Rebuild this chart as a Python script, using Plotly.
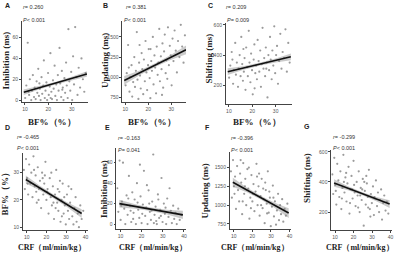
import plotly.graph_objects as go

# ---------------- data ----------------
# top row x: body fat percentage (BF%)
bf = [10.1, 10.6, 11.2, 11.8, 12.1, 12.7, 13.0, 13.4, 13.9, 14.2, 14.6, 15.0, 15.3, 15.7, 16.0, 16.4, 16.7, 17.1,
      17.4, 17.8, 18.1, 18.5, 18.8, 19.2, 19.5, 19.9, 20.2, 20.6, 20.9, 21.3, 21.6, 22.0, 22.3, 22.7, 23.0, 23.4,
      23.7, 24.1, 24.4, 24.8, 25.1, 25.5, 25.8, 26.2, 26.5, 26.9, 27.2, 27.6, 27.9, 28.3, 28.6, 29.0, 29.4, 29.8,
      30.2, 30.6, 31.0, 31.5, 32.0, 32.5, 33.0, 33.6, 34.2, 34.8, 35.4, 36.0, 11.5, 16.2, 21.0, 26.0]
inhibition_a = [2, 14, 55, 5, 20, 0, 9, 24, 3, 12, 1, 18, 7, 30, 4, 11, 0, 22, 6, 14, 38, 2, 9, 17, 0, 26, 5, 13,
                45, 8, 1, 19, 11, 33, 4, 15, 0, 24, 9, 50, 16, 3, 28, 12, 0, 21, 7, 36, 14, 2, 68, 18, 9, 27, 0,
                42, 15, 70, 22, 5, 31, 12, 40, 20, 8, 26, 8, 16, 2, 10]
updating_b = [900, 1050, 1400, 820, 1000, 1150, 760, 940, 1250, 880, 1080, 1560, 970, 730, 1180, 1020, 860, 1300,
              1100, 790, 1220, 950, 1450, 1060, 840, 1150, 1350, 990, 740, 1200, 1080, 1500, 910, 1270, 1120, 800,
              1380, 1030, 1180, 1600, 950, 1260, 1100, 1420, 870, 1320, 1530, 1050, 1210, 980, 1620, 1150, 1390,
              1270, 900, 1480, 1200, 1580, 1330, 1060, 1450, 1250, 1650, 1380, 1180, 1520, 1120, 1400, 1350, 780]
shifting_c = [250, 330, 420, 210, 300, 480, 270, 350, 190, 310, 400, 260, 520, 340, 230, 290, 380, 170, 450, 320,
              260, 560, 350, 220, 410, 300, 140, 370, 470, 280, 330, 240, 500, 360, 290, 430, 190, 340, 580, 310,
              380, 260, 450, 350, 120, 400, 300, 520, 370, 240, 430, 330, 590, 280, 400, 460, 210, 360, 540, 310,
              420, 380, 570, 290, 480, 350, 370, 440, 180, 310]

# bottom row x: cardiorespiratory fitness (CRF)
crf = [8.5, 9.0, 9.6, 10.1, 10.7, 11.2, 11.8, 12.3, 12.9, 13.4, 14.0, 14.5, 15.1, 15.6, 16.2, 16.7, 17.3, 17.8,
       18.4, 18.9, 19.5, 20.0, 20.6, 21.1, 21.7, 22.2, 22.8, 23.3, 23.9, 24.4, 25.0, 25.5, 26.1, 26.6, 27.2, 27.7,
       28.3, 28.8, 29.4, 29.9, 30.5, 31.0, 31.6, 32.1, 32.7, 33.2, 33.8, 34.3, 34.9, 35.4, 36.0, 36.6, 37.3, 38.0,
       38.8, 10.4, 13.7, 16.0, 18.1, 20.3, 22.5, 24.7, 26.9, 29.1, 31.3, 14.8, 19.2, 23.6, 27.9, 25.8]
bf_d = [31, 24, 35, 28, 22, 33, 26, 30, 21, 36, 25, 29, 19, 32, 24, 27, 17, 30, 22, 26, 34, 20, 24, 15, 28, 21, 18,
        25, 13, 22, 31, 19, 16, 23, 12, 20, 26, 15, 18, 11, 22, 16, 13, 19, 24, 14, 11, 17, 21, 12, 15, 10, 18, 13,
        16, 26, 31, 20, 28, 23, 30, 17, 27, 21, 25, 23, 29, 19, 14, 24]
inhibition_e = [35, 12, 62, 4, 22, 60, 15, 0, 28, 9, 47, 18, 2, 31, 11, 24, 0, 40, 14, 6, 27, 1, 19, 52, 8, 16, 0,
                33, 12, 4, 22, 68, 9, 17, 0, 29, 6, 14, 45, 2, 20, 10, 0, 25, 7, 35, 13, 1, 18, 5, 11, 0, 15, 4, 9,
                18, 25, 5, 21, 10, 38, 13, 3, 8, 16, 13, 58, 20, 24, 1]
updating_f = [1450, 1100, 1600, 1250, 1380, 950, 1520, 1200, 1050, 1420, 1300, 880, 1560, 1150, 1350, 1000, 1480,
              1220, 820, 1100, 1400, 1050, 1280, 920, 1180, 1550, 1000, 1250, 860, 1120, 1350, 960, 1080, 760,
              1200, 1020, 1450, 900, 1100, 720, 980, 1260, 850, 1050, 740, 930, 1150, 800, 1000, 880, 1080, 780,
              950, 860, 1020, 1150, 1600, 1250, 1500, 1150, 1380, 1000, 1300, 1180, 1100, 1050, 960, 1420, 890, 1220]
shifting_g = [450, 320, 560, 380, 250, 520, 410, 300, 470, 220, 360, 580, 330, 430, 270, 390, 500, 190, 350, 440,
              290, 540, 330, 240, 400, 310, 470, 200, 360, 280, 420, 110, 340, 250, 390, 300, 480, 220, 320, 260,
              370, 180, 290, 410, 240, 330, 200, 280, 350, 150, 260, 310, 210, 270, 190, 340, 290, 460, 260, 380,
              230, 350, 440, 170, 300, 400, 350, 310, 230, 400]

# regression lines (end points) and confidence band
fit_x_a = [9.5, 36.5];  fit_y_a = [7.5, 25.0]
band_x_a = [9.5, 16, 23, 30, 36.5]; band_lo_a = [4.9, 10.1, 15.05, 19.2, 22.4]; band_hi_a = [10.1, 13.3, 17.45, 22.4, 27.6]
fit_x_b = [9.5, 36.5];  fit_y_b = [960, 1340]
band_x_b = [9.5, 16, 23, 30, 36.5]; band_lo_b = [905, 1021, 1128, 1218, 1285]; band_hi_b = [1015, 1081, 1172, 1278, 1395]
fit_x_c = [9.5, 36.5];  fit_y_c = [290, 388]
band_x_c = [9.5, 16, 23, 30, 36.5]; band_lo_c = [268, 300.6, 329, 351.4, 366]; band_hi_c = [312, 326.6, 349, 377.4, 410]
fit_x_d = [9.5, 38];    fit_y_d = [27.5, 15.0]
band_x_d = [9.5, 16.5, 23.5, 30.5, 38]; band_lo_d = [26.0, 23.53, 20.66, 17.39, 13.4]; band_hi_d = [29.0, 25.33, 22.06, 19.19, 16.6]
fit_x_e = [9.5, 39.5];  fit_y_e = [20.0, 9.0]
band_x_e = [9.5, 17, 24.5, 32, 39.5]; band_lo_e = [16.2, 15.05, 12.8, 9.45, 5.0]; band_hi_e = [23.8, 19.45, 16.2, 14.05, 13.0]
fit_x_f = [9.5, 39.5];  fit_y_f = [1305, 895]
band_x_f = [9.5, 17, 24.5, 32, 39.5]; band_lo_f = [1245, 1170.5, 1075, 962.5, 830]; band_hi_f = [1365, 1234.5, 1125, 1032.5, 960]
fit_x_g = [9.5, 39.5];  fit_y_g = [393, 253]
band_x_g = [9.5, 17, 24.5, 32, 39.5]; band_lo_g = [368, 345, 313, 274, 227]; band_hi_g = [418, 371, 333, 302, 279]

letters = ["A", "B", "C", "D", "E", "F", "G"]
r_labels = ["0.260", "0.381", "0.209", "-0.465", "-0.163", "-0.396", "-0.299"]
p_labels = ["<i>P</i>< 0.001", "<i>P</i>< 0.001", "<i>P</i>= 0.009", "<i>P</i>< 0.001",
            "<i>P</i>= 0.041", "<i>P</i>< 0.001", "<i>P</i>< 0.001"]
y_titles = ["Inhibition (ms)", "Updating (ms)", "Shifting (ms)", "BF%（%）",
            "Inhibition (ms)", "Updating (ms)", "Shifting (ms)"]
x_titles = ["BF%（%）"] * 3 + ["CRF（ml/min/kg）"] * 4

x_ticks_top = [10, 20, 30]
x_ticks_bot = [10, 20, 30, 40]
y_ticks = [[0, 20, 40, 60], [750, 1000, 1250, 1500], [200, 400, 600], [10, 20, 30],
           [0, 20, 40, 60], [750, 1000, 1250, 1500], [200, 400, 600]]

# ---------------- layout geometry (pixels in a 400x253 canvas) ----------------
W, H = 400, 253
panels = [
    dict(x=bf, y=inhibition_a, fx=fit_x_a, fy=fit_y_a, bx=band_x_a, blo=band_lo_a, bhi=band_hi_a,
         px=(22, 88), py=(20, 102), xr=[8.7, 36.8], yr=[-2, 76], xt=x_ticks_top,
         lt=(3, 5), rt=(21, 6), pt=(21, 19), yt=(6, 60), xtl=(52, 122)),
    dict(x=bf, y=updating_b, fx=fit_x_b, fy=fit_y_b, bx=band_x_b, blo=band_lo_b, bhi=band_hi_b,
         px=(123, 187), py=(20, 102), xr=[8.7, 36.5], yr=[690, 1700], xt=x_ticks_top,
         lt=(102, 5), rt=(125, 6), pt=(123, 19), yt=(105, 60), xtl=(153, 122)),
    dict(x=bf, y=shifting_c, fx=fit_x_c, fy=fit_y_c, bx=band_x_c, blo=band_lo_c, bhi=band_hi_c,
         px=(227, 293), py=(22, 104), xr=[8.7, 36.8], yr=[75, 613], xt=x_ticks_top,
         lt=(207, 5), rt=(225, 6), pt=(226, 19), yt=(210, 58), xtl=(258, 122)),
    dict(x=crf, y=bf_d, fx=fit_x_d, fy=fit_y_d, bx=band_x_d, blo=band_lo_d, bhi=band_hi_d,
         px=(23, 88), py=(153, 231), xr=[8.0, 41.0], yr=[8.9, 37.3], xt=x_ticks_bot,
         lt=(3, 128), rt=(15, 137), pt=(15, 148), yt=(6, 192), xtl=(52, 248)),
    dict(x=crf, y=inhibition_e, fx=fit_x_e, fy=fit_y_e, bx=band_x_e, blo=band_lo_e, bhi=band_hi_e,
         px=(117, 187), py=(148, 230), xr=[8.1, 41.0], yr=[-5, 74.5], xt=x_ticks_bot,
         lt=(104, 128), rt=(117, 138), pt=(117, 150), yt=(104, 189), xtl=(154, 248)),
    dict(x=crf, y=updating_f, fx=fit_x_f, fy=fit_y_f, bx=band_x_f, blo=band_lo_f, bhi=band_hi_f,
         px=(231, 292), py=(152, 230), xr=[7.9, 40.5], yr=[680, 1710], xt=x_ticks_bot,
         lt=(204, 128), rt=(230, 138), pt=(230, 150), yt=(207, 191), xtl=(256, 248)),
    dict(x=crf, y=shifting_g, fx=fit_x_g, fy=fit_y_g, bx=band_x_g, blo=band_lo_g, bhi=band_hi_g,
         px=(333, 394), py=(150, 231), xr=[8.0, 40.8], yr=[80, 613], xt=x_ticks_bot,
         lt=(304, 127), rt=(333, 137), pt=(333, 148), yt=(308, 178), xtl=(362, 248)),
]

fig = go.Figure()
annotations = []
serif = "Liberation Serif, Times New Roman, serif"
sans = "Liberation Sans, Arial, sans-serif"

def fx_(px):
    return px / W

def fy_(py):
    return 1 - py / H

for i, p in enumerate(panels):
    n = "" if i == 0 else str(i + 1)
    xa, ya = "x" + n, "y" + n
    # confidence band
    fig.add_trace(go.Scatter(x=p["bx"] + p["bx"][::-1], y=p["bhi"] + p["blo"][::-1], xaxis=xa, yaxis=ya,
                             mode="lines", fill="toself", fillcolor="rgba(175,175,175,0.65)",
                             line=dict(width=0), hoverinfo="skip", showlegend=False))
    # scatter points
    fig.add_trace(go.Scatter(x=p["x"], y=p["y"], xaxis=xa, yaxis=ya, mode="markers",
                             marker=dict(size=2.2, color="rgba(130,130,130,0.8)", line=dict(width=0)),
                             showlegend=False))
    # regression line
    fig.add_trace(go.Scatter(x=p["fx"], y=p["fy"], xaxis=xa, yaxis=ya, mode="lines",
                             line=dict(color="#111111", width=1.6), showlegend=False))

    axis_common = dict(showgrid=False, zeroline=False, showline=True, linecolor="#444444", linewidth=0.8,
                       ticks="outside", ticklen=2, tickwidth=0.6, tickcolor="#444444",
                       tickfont=dict(size=5, color="#555555", family=sans))
    fig.update_layout(**{
        ("xaxis" + n): dict(domain=[fx_(p["px"][0]), fx_(p["px"][1])], range=p["xr"], anchor=ya,
                            tickvals=p["xt"], **axis_common),
        ("yaxis" + n): dict(domain=[fy_(p["py"][1]), fy_(p["py"][0])], range=p["yr"], anchor=xa,
                            tickvals=y_ticks[i], **axis_common),
    })

    annotations.append(dict(x=fx_(p["lt"][0]), y=fy_(p["lt"][1]), xref="paper", yref="paper",
                            text="<b>" + letters[i] + "</b>", showarrow=False, xanchor="left", yanchor="middle",
                            font=dict(size=7, family=sans, color="#222222")))
    annotations.append(dict(x=fx_(p["rt"][0]), y=fy_(p["rt"][1]), xref="paper", yref="paper",
                            text="<i>r</i>= " + r_labels[i], showarrow=False, xanchor="left", yanchor="middle",
                            font=dict(size=5.5, family=sans, color="#333333")))
    annotations.append(dict(x=fx_(p["pt"][0]), y=fy_(p["pt"][1]), xref="paper", yref="paper",
                            text=p_labels[i], showarrow=False, xanchor="left", yanchor="middle",
                            font=dict(size=5.5, family=sans, color="#333333")))
    annotations.append(dict(x=fx_(p["yt"][0]), y=fy_(p["yt"][1]), xref="paper", yref="paper",
                            text="<b>" + y_titles[i] + "</b>", showarrow=False, textangle=-90,
                            xanchor="center", yanchor="middle",
                            font=dict(size=9, family=serif, color="#222222")))
    annotations.append(dict(x=fx_(p["xtl"][0]), y=fy_(p["xtl"][1]), xref="paper", yref="paper",
                            text="<b>" + x_titles[i] + "</b>", showarrow=False,
                            xanchor="center", yanchor="middle",
                            font=dict(size=8 if i >= 3 else 9, family=serif, color="#222222")))

fig.update_layout(width=W, height=H, margin=dict(l=0, r=0, t=0, b=0), plot_bgcolor="white",
                  paper_bgcolor="white", annotations=annotations, showlegend=False)

fig.write_html("out.html", config={"displayModeBar": False},
               post_script="document.body.style.margin='0';document.body.style.overflow='hidden';")
